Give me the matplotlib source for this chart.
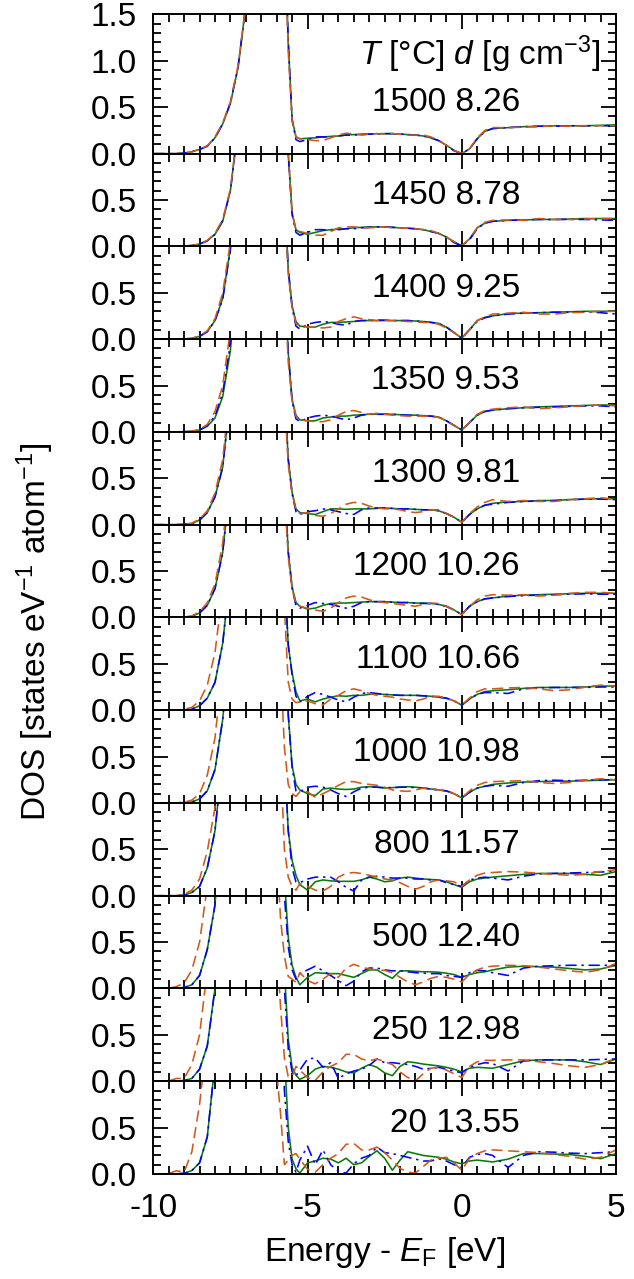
import numpy as np
import matplotlib
matplotlib.use("Agg")
import matplotlib.pyplot as plt
from matplotlib.ticker import MultipleLocator, FuncFormatter

plt.rcParams['font.family'] = ['Liberation Sans', 'DejaVu Sans']
plt.rcParams['mathtext.fontset'] = 'custom'
plt.rcParams['mathtext.rm'] = 'Liberation Sans'
plt.rcParams['mathtext.it'] = 'Liberation Sans:italic'
plt.rcParams['axes.unicode_minus'] = False

# energy grid (eV), shared by all curves
energy = [-10, -9.5, -9.25, -9.0, -8.75, -8.5, -8.25, -8.0, -7.75, -7.5, -7.25, -7.0,
          -6.5, -6.25, -6.0, -5.875, -5.75, -5.625, -5.5, -5.375, -5.25, -5.0, -4.75, -4.5, -4.25, -4.0,
          -3.75, -3.5, -3.25, -3.0, -2.75, -2.5, -2.25, -2.0, -1.75, -1.5, -1.25, -1.0, -0.75, -0.5, -0.25, 0.0,
          0.25, 0.5, 0.75, 1.0, 1.5, 2.0, 2.5, 3.0, 3.5, 4.0, 4.5, 5.0]

temps = ['1500', '1450', '1400', '1350', '1300', '1200', '1100', '1000', '800', '500', '250', '20']
dens = ['8.26', '8.78', '9.25', '9.53', '9.81', '10.26', '10.66', '10.98', '11.57', '12.40', '12.98', '13.55']

# 1500
g1500 = [0, 0, 0, 0.005, 0.02, 0.045, 0.08, 0.17, 0.32, 0.54, 0.93, 1.6,
         3, 3, 3, 3, 2.5, 1.2, 0.37, 0.18, 0.16, 0.165, 0.17, 0.18, 0.185, 0.19,
         0.2, 0.205, 0.21, 0.21, 0.215, 0.215, 0.215, 0.21, 0.205, 0.2, 0.19, 0.17, 0.14, 0.09, 0.035, 0.0,
         0.05, 0.16, 0.24, 0.27, 0.28, 0.29, 0.295, 0.3, 0.3, 0.3, 0.305, 0.31]
b1500 = [0, 0, 0, 0.005, 0.02, 0.045, 0.08, 0.17, 0.32, 0.55, 0.94, 1.6,
         3, 3, 3, 3, 2.5, 1.2, 0.36, 0.15, 0.13, 0.15, 0.18, 0.18, 0.18, 0.19,
         0.2, 0.2, 0.205, 0.21, 0.21, 0.215, 0.215, 0.21, 0.205, 0.2, 0.19, 0.17, 0.14, 0.09, 0.03, 0.0,
         0.05, 0.16, 0.24, 0.27, 0.28, 0.29, 0.295, 0.295, 0.3, 0.3, 0.3, 0.3]
o1500 = [0, 0, 0, 0.005, 0.02, 0.045, 0.085, 0.18, 0.33, 0.56, 0.95, 1.6,
         3, 3, 3, 3, 2.4, 1.1, 0.36, 0.18, 0.16, 0.15, 0.14, 0.14, 0.17, 0.2,
         0.22, 0.21, 0.2, 0.21, 0.215, 0.21, 0.215, 0.21, 0.2, 0.2, 0.2, 0.18, 0.14, 0.09, 0.035, 0.0,
         0.05, 0.17, 0.25, 0.28, 0.28, 0.285, 0.29, 0.3, 0.295, 0.3, 0.3, 0.3]
# 1450
g1450 = [0, 0, 0, 0.003, 0.01, 0.025, 0.06, 0.13, 0.27, 0.6, 1.3, 3,
         3, 3, 3, 3, 2.0, 1.0, 0.36, 0.18, 0.15, 0.13, 0.15, 0.17, 0.18, 0.185,
         0.19, 0.2, 0.205, 0.21, 0.21, 0.21, 0.205, 0.2, 0.195, 0.19, 0.18, 0.16, 0.14, 0.1, 0.05, 0.005,
         0.08, 0.2, 0.25, 0.27, 0.28, 0.285, 0.29, 0.29, 0.295, 0.3, 0.3, 0.3]
b1450 = [0, 0, 0, 0.003, 0.01, 0.025, 0.06, 0.13, 0.28, 0.6, 1.3, 3,
         3, 3, 3, 3, 2.0, 1.0, 0.34, 0.15, 0.12, 0.15, 0.18, 0.18, 0.17, 0.18,
         0.19, 0.19, 0.2, 0.205, 0.21, 0.21, 0.205, 0.2, 0.195, 0.19, 0.18, 0.16, 0.14, 0.1, 0.04, 0.005,
         0.07, 0.19, 0.25, 0.27, 0.28, 0.285, 0.29, 0.29, 0.29, 0.29, 0.285, 0.28]
o1450 = [0, 0, 0, 0.003, 0.01, 0.025, 0.065, 0.14, 0.29, 0.62, 1.3, 3,
         3, 3, 3, 3, 2.0, 1.0, 0.36, 0.18, 0.16, 0.14, 0.12, 0.12, 0.16, 0.2,
         0.21, 0.21, 0.2, 0.2, 0.205, 0.21, 0.2, 0.2, 0.195, 0.19, 0.18, 0.17, 0.14, 0.1, 0.05, 0.005,
         0.08, 0.2, 0.26, 0.28, 0.285, 0.28, 0.3, 0.29, 0.29, 0.295, 0.3, 0.3]
# 1400
g1400 = [0, 0, 0, 0.002, 0.007, 0.03, 0.08, 0.2, 0.44, 0.98, 2, 3,
         3, 3, 3, 3, 1.6, 0.75, 0.36, 0.19, 0.14, 0.13, 0.13, 0.16, 0.18, 0.18,
         0.185, 0.19, 0.2, 0.2, 0.2, 0.2, 0.2, 0.2, 0.2, 0.195, 0.19, 0.18, 0.17, 0.13, 0.07, 0.01,
         0.1, 0.2, 0.235, 0.25, 0.275, 0.28, 0.285, 0.29, 0.295, 0.3, 0.3, 0.3]
b1400 = [0, 0, 0, 0.002, 0.007, 0.03, 0.08, 0.2, 0.43, 0.97, 2, 3,
         3, 3, 3, 3, 1.6, 0.75, 0.34, 0.14, 0.11, 0.16, 0.18, 0.19, 0.18, 0.16,
         0.15, 0.19, 0.2, 0.2, 0.205, 0.205, 0.2, 0.2, 0.2, 0.195, 0.19, 0.18, 0.17, 0.13, 0.07, 0.01,
         0.1, 0.19, 0.23, 0.25, 0.27, 0.28, 0.285, 0.29, 0.29, 0.295, 0.285, 0.27]
o1400 = [0, 0, 0, 0.003, 0.01, 0.035, 0.09, 0.22, 0.5, 1.05, 2, 3,
         3, 3, 3, 3, 1.5, 0.7, 0.34, 0.17, 0.14, 0.13, 0.13, 0.12, 0.13, 0.19,
         0.22, 0.24, 0.22, 0.21, 0.2, 0.205, 0.2, 0.195, 0.19, 0.185, 0.18, 0.18, 0.16, 0.12, 0.07, 0.01,
         0.1, 0.2, 0.24, 0.27, 0.28, 0.29, 0.27, 0.27, 0.285, 0.29, 0.3, 0.3]
# 1350
g1350 = [0, 0, 0, 0.002, 0.006, 0.018, 0.06, 0.15, 0.38, 0.88, 2, 3,
         3, 3, 3, 3, 1.8, 0.85, 0.35, 0.18, 0.13, 0.12, 0.12, 0.15, 0.16, 0.17,
         0.17, 0.18, 0.185, 0.19, 0.19, 0.19, 0.19, 0.185, 0.18, 0.18, 0.175, 0.17, 0.16, 0.12, 0.07, 0.02,
         0.1, 0.18, 0.22, 0.235, 0.25, 0.26, 0.27, 0.275, 0.28, 0.285, 0.29, 0.29]
b1350 = [0, 0, 0, 0.002, 0.007, 0.02, 0.07, 0.17, 0.42, 0.95, 2, 3,
         3, 3, 3, 3, 1.8, 0.85, 0.33, 0.14, 0.11, 0.15, 0.17, 0.18, 0.17, 0.15,
         0.13, 0.15, 0.18, 0.19, 0.19, 0.19, 0.19, 0.185, 0.18, 0.18, 0.175, 0.17, 0.16, 0.12, 0.07, 0.02,
         0.1, 0.18, 0.22, 0.235, 0.25, 0.26, 0.265, 0.27, 0.275, 0.28, 0.28, 0.27]
o1350 = [0, 0, 0, 0.003, 0.009, 0.028, 0.08, 0.22, 0.5, 1.1, 2, 3,
         3, 3, 3, 3, 1.6, 0.75, 0.33, 0.17, 0.13, 0.12, 0.11, 0.11, 0.13, 0.18,
         0.22, 0.23, 0.21, 0.19, 0.2, 0.19, 0.18, 0.175, 0.17, 0.17, 0.17, 0.17, 0.155, 0.12, 0.07, 0.02,
         0.1, 0.19, 0.23, 0.245, 0.26, 0.27, 0.25, 0.26, 0.27, 0.285, 0.29, 0.28]
# 1300
g1300 = [0, 0, 0, 0.003, 0.012, 0.05, 0.13, 0.3, 0.62, 1.4, 3, 3,
         3, 3, 3, 3, 1.5, 0.7, 0.35, 0.17, 0.13, 0.12, 0.11, 0.14, 0.17, 0.17,
         0.165, 0.17, 0.17, 0.17, 0.175, 0.18, 0.175, 0.17, 0.17, 0.165, 0.16, 0.16, 0.15, 0.12, 0.08, 0.025,
         0.11, 0.17, 0.21, 0.23, 0.245, 0.25, 0.26, 0.26, 0.27, 0.275, 0.28, 0.28]
b1300 = [0, 0, 0, 0.003, 0.012, 0.05, 0.13, 0.3, 0.62, 1.4, 3, 3,
         3, 3, 3, 3, 1.5, 0.7, 0.33, 0.14, 0.11, 0.14, 0.15, 0.17, 0.16, 0.14,
         0.12, 0.11, 0.16, 0.18, 0.18, 0.18, 0.175, 0.17, 0.17, 0.165, 0.16, 0.16, 0.15, 0.12, 0.08, 0.025,
         0.11, 0.17, 0.21, 0.22, 0.24, 0.25, 0.255, 0.26, 0.27, 0.275, 0.275, 0.27]
o1300 = [0, 0, 0, 0.004, 0.016, 0.06, 0.15, 0.34, 0.7, 1.5, 3, 3,
         3, 3, 3, 3, 1.4, 0.65, 0.33, 0.16, 0.12, 0.13, 0.1, 0.09, 0.12, 0.17,
         0.22, 0.24, 0.23, 0.2, 0.18, 0.17, 0.17, 0.16, 0.14, 0.13, 0.14, 0.16, 0.16, 0.12, 0.08, 0.025,
         0.12, 0.19, 0.24, 0.27, 0.25, 0.26, 0.25, 0.25, 0.27, 0.28, 0.29, 0.27]
# 1200
g1200 = [0, 0, 0, 0.003, 0.012, 0.047, 0.13, 0.31, 0.7, 1.5, 3, 3,
         3, 3, 3, 3, 1.5, 0.7, 0.33, 0.16, 0.12, 0.09, 0.1, 0.13, 0.15, 0.155,
         0.155, 0.16, 0.165, 0.17, 0.17, 0.17, 0.165, 0.16, 0.16, 0.155, 0.155, 0.15, 0.14, 0.12, 0.08, 0.03,
         0.12, 0.17, 0.2, 0.21, 0.23, 0.24, 0.245, 0.25, 0.255, 0.26, 0.26, 0.26]
b1200 = [0, 0, 0, 0.003, 0.012, 0.047, 0.13, 0.31, 0.7, 1.5, 3, 3,
         3, 3, 3, 3, 1.5, 0.7, 0.31, 0.13, 0.1, 0.13, 0.16, 0.15, 0.14, 0.12,
         0.1, 0.12, 0.16, 0.17, 0.17, 0.17, 0.165, 0.16, 0.16, 0.155, 0.15, 0.15, 0.14, 0.12, 0.08, 0.03,
         0.12, 0.17, 0.2, 0.21, 0.225, 0.235, 0.24, 0.245, 0.25, 0.255, 0.25, 0.25]
o1200 = [0, 0, 0, 0.004, 0.016, 0.06, 0.16, 0.36, 0.8, 1.6, 3, 3,
         3, 3, 3, 3, 1.4, 0.65, 0.31, 0.15, 0.12, 0.1, 0.08, 0.065, 0.1, 0.16,
         0.21, 0.23, 0.22, 0.19, 0.17, 0.16, 0.15, 0.14, 0.13, 0.12, 0.14, 0.155, 0.15, 0.12, 0.08, 0.03,
         0.12, 0.19, 0.23, 0.245, 0.24, 0.245, 0.23, 0.24, 0.26, 0.27, 0.27, 0.26]
# 1100
g1100 = [0, 0, 0, 0.003, 0.012, 0.047, 0.13, 0.3, 0.72, 1.5, 3, 3,
         3, 3, 3, 3, 1.5, 0.7, 0.4, 0.2, 0.1, 0.12, 0.09, 0.12, 0.14, 0.155,
         0.15, 0.16, 0.16, 0.17, 0.175, 0.17, 0.165, 0.16, 0.16, 0.16, 0.155, 0.15, 0.14, 0.13, 0.1, 0.054,
         0.12, 0.17, 0.2, 0.21, 0.22, 0.235, 0.245, 0.245, 0.245, 0.25, 0.26, 0.26]
b1100 = [0, 0, 0, 0.003, 0.012, 0.047, 0.13, 0.3, 0.72, 1.5, 3, 3,
         3, 3, 3, 3, 1.5, 0.7, 0.38, 0.15, 0.09, 0.15, 0.19, 0.17, 0.14, 0.11,
         0.09, 0.14, 0.18, 0.19, 0.18, 0.17, 0.165, 0.16, 0.16, 0.16, 0.155, 0.15, 0.14, 0.13, 0.1, 0.054,
         0.12, 0.17, 0.19, 0.19, 0.18, 0.23, 0.24, 0.245, 0.245, 0.245, 0.25, 0.25]
o1100 = [0, 0, 0, 0.01, 0.03, 0.1, 0.27, 0.62, 1.3, 3, 3, 3,
         3, 3, 3, 3, 1.1, 0.3, 0.12, 0.08, 0.09, 0.1, 0.07, 0.055, 0.12, 0.16,
         0.21, 0.23, 0.21, 0.18, 0.16, 0.15, 0.14, 0.12, 0.11, 0.1, 0.12, 0.15, 0.15, 0.13, 0.1, 0.054,
         0.13, 0.2, 0.23, 0.23, 0.24, 0.245, 0.23, 0.21, 0.22, 0.25, 0.27, 0.26]
# 1000
g1000 = [0, 0, 0, 0.003, 0.01, 0.043, 0.13, 0.36, 0.9, 1.8, 3, 3,
         3, 3, 3, 3, 2.0, 0.95, 0.4, 0.2, 0.14, 0.1, 0.08, 0.15, 0.16, 0.15,
         0.145, 0.15, 0.17, 0.175, 0.17, 0.16, 0.165, 0.17, 0.175, 0.17, 0.16, 0.15, 0.14, 0.13, 0.1, 0.054,
         0.115, 0.16, 0.18, 0.2, 0.215, 0.225, 0.23, 0.235, 0.235, 0.24, 0.245, 0.25]
b1000 = [0, 0, 0, 0.003, 0.01, 0.043, 0.13, 0.36, 0.9, 1.8, 3, 3,
         3, 3, 3, 3, 2.0, 0.95, 0.38, 0.13, 0.12, 0.17, 0.18, 0.17, 0.14, 0.1,
         0.07, 0.12, 0.16, 0.17, 0.17, 0.165, 0.165, 0.17, 0.17, 0.165, 0.16, 0.15, 0.14, 0.13, 0.1, 0.054,
         0.115, 0.16, 0.18, 0.19, 0.18, 0.22, 0.24, 0.245, 0.24, 0.245, 0.25, 0.25]
o1000 = [0, 0, 0, 0.01, 0.03, 0.1, 0.3, 0.7, 1.5, 3, 3, 3,
         3, 3, 3, 1.5, 0.6, 0.2, 0.1, 0.07, 0.12, 0.12, 0.06, 0.1, 0.14, 0.19,
         0.23, 0.23, 0.21, 0.2, 0.19, 0.17, 0.14, 0.13, 0.125, 0.14, 0.16, 0.16, 0.14, 0.13, 0.1, 0.054,
         0.13, 0.19, 0.22, 0.23, 0.235, 0.24, 0.22, 0.21, 0.22, 0.245, 0.26, 0.25]
# 800
g800 = [0, 0, 0, 0.005, 0.035, 0.1, 0.3, 0.7, 1.5, 3, 3, 3,
        3, 3, 3, 3, 1.5, 0.7, 0.38, 0.22, 0.12, 0.06, 0.15, 0.17, 0.16, 0.155,
        0.155, 0.155, 0.17, 0.2, 0.18, 0.15, 0.16, 0.19, 0.2, 0.19, 0.18, 0.175, 0.17, 0.15, 0.12, 0.09,
        0.15, 0.18, 0.19, 0.2, 0.215, 0.23, 0.24, 0.24, 0.24, 0.23, 0.22, 0.26]
b800 = [0, 0, 0, 0.005, 0.035, 0.1, 0.3, 0.7, 1.5, 3, 3, 3,
        3, 3, 3, 3, 1.5, 0.7, 0.3, 0.15, 0.14, 0.18, 0.2, 0.2, 0.2, 0.15,
        0.09, 0.05, 0.17, 0.2, 0.21, 0.2, 0.19, 0.19, 0.19, 0.18, 0.18, 0.17, 0.17, 0.14, 0.12, 0.1,
        0.17, 0.19, 0.2, 0.19, 0.17, 0.21, 0.235, 0.24, 0.245, 0.25, 0.255, 0.265]
o800 = [0, 0, 0, 0.015, 0.06, 0.18, 0.48, 0.95, 2, 3, 3, 3,
        3, 3, 3, 1.5, 0.5, 0.2, 0.1, 0.06, 0.13, 0.1, 0.06, 0.05, 0.1, 0.2,
        0.24, 0.25, 0.24, 0.22, 0.2, 0.18, 0.17, 0.14, 0.1, 0.07, 0.1, 0.15, 0.17, 0.16, 0.15, 0.1,
        0.17, 0.22, 0.245, 0.25, 0.26, 0.255, 0.24, 0.23, 0.22, 0.23, 0.26, 0.28]
# 500
g500 = [0, 0, 0.003, 0.01, 0.04, 0.14, 0.42, 0.9, 2, 3, 3, 3,
        3, 3, 3, 2.2, 1.2, 0.55, 0.25, 0.12, 0.04, 0.12, 0.17, 0.165, 0.16, 0.16,
        0.14, 0.12, 0.16, 0.2, 0.2, 0.15, 0.11, 0.19, 0.19, 0.185, 0.18, 0.18, 0.175, 0.165, 0.15, 0.12,
        0.15, 0.17, 0.18, 0.2, 0.23, 0.24, 0.235, 0.23, 0.215, 0.2, 0.21, 0.25]
b500 = [0, 0, 0.003, 0.01, 0.04, 0.14, 0.42, 0.9, 2, 3, 3, 3,
        3, 3, 3, 2.0, 1.0, 0.45, 0.2, 0.1, 0.16, 0.2, 0.24, 0.19, 0.14, 0.085,
        0.03, 0.08, 0.18, 0.22, 0.22, 0.2, 0.19, 0.19, 0.18, 0.17, 0.165, 0.16, 0.16, 0.14, 0.13, 0.12,
        0.17, 0.195, 0.19, 0.17, 0.14, 0.22, 0.24, 0.245, 0.25, 0.25, 0.25, 0.25]
o500 = [0, 0.003, 0.02, 0.06, 0.2, 0.5, 1.1, 2, 3, 3, 3, 3,
        3, 3, 1.5, 0.75, 0.35, 0.13, 0.1, 0.066, 0.17, 0.085, 0.05, 0.1, 0.16, 0.12,
        0.22, 0.26, 0.23, 0.21, 0.2, 0.195, 0.17, 0.12, 0.07, 0.04, 0.07, 0.11, 0.13, 0.12, 0.1, 0.07,
        0.15, 0.2, 0.23, 0.24, 0.25, 0.245, 0.23, 0.21, 0.19, 0.175, 0.2, 0.27]
# 250
g250 = [0, 0, 0.002, 0.007, 0.03, 0.13, 0.38, 1.0, 2, 3, 3, 3,
        3, 3, 3, 2.0, 1.2, 0.45, 0.15, 0.065, 0.02, 0.06, 0.13, 0.16, 0.15, 0.13,
        0.1, 0.09, 0.14, 0.18, 0.15, 0.09, 0.06, 0.16, 0.21, 0.2, 0.185, 0.175, 0.165, 0.15, 0.13, 0.1,
        0.14, 0.15, 0.145, 0.14, 0.18, 0.22, 0.23, 0.23, 0.23, 0.21, 0.18, 0.24]
b250 = [0, 0, 0.002, 0.007, 0.03, 0.13, 0.38, 1.0, 2, 3, 3, 3,
        3, 3, 3, 2.0, 1.0, 0.35, 0.1, 0.06, 0.12, 0.24, 0.25, 0.15, 0.2, 0.03,
        0.08, 0.11, 0.13, 0.17, 0.24, 0.2, 0.2, 0.19, 0.18, 0.16, 0.13, 0.14, 0.15, 0.13, 0.11, 0.09,
        0.15, 0.18, 0.2, 0.19, 0.11, 0.22, 0.23, 0.23, 0.23, 0.23, 0.235, 0.24]
o250 = [0, 0.003, 0.03, 0.03, 0.18, 0.5, 1.2, 2, 3, 3, 3, 3,
        3, 3, 1.5, 0.8, 0.25, 0.05, 0.05, 0.16, 0.12, 0.04, 0.01, 0.1, 0.16, 0.2,
        0.29, 0.29, 0.24, 0.22, 0.24, 0.21, 0.18, 0.1, 0.04, 0.005, 0.08, 0.14, 0.15, 0.12, 0.08, 0.04,
        0.16, 0.21, 0.225, 0.225, 0.23, 0.23, 0.21, 0.19, 0.165, 0.15, 0.18, 0.25]
# 20
g20 = [0, 0, 0.002, 0.007, 0.037, 0.12, 0.4, 1.2, 2, 3, 3, 3,
       3, 3, 3, 3, 1.3, 0.5, 0.16, 0.055, 0.01, 0.12, 0.14, 0.17, 0.16, 0.12,
       0.17, 0.1, 0.12, 0.19, 0.25, 0.17, 0.04, 0.15, 0.24, 0.22, 0.2, 0.19, 0.18, 0.16, 0.13, 0.11,
       0.14, 0.15, 0.14, 0.13, 0.16, 0.22, 0.22, 0.215, 0.21, 0.19, 0.165, 0.22]
b20 = [0, 0, 0.002, 0.007, 0.037, 0.12, 0.4, 1.2, 2, 3, 3, 3,
       3, 3, 3, 2.0, 0.9, 0.35, 0.1, 0.02, 0.15, 0.3, 0.1, 0.26, 0.1, 0.03,
       0.01, 0.11, 0.17, 0.2, 0.29, 0.23, 0.22, 0.2, 0.18, 0.16, 0.14, 0.14, 0.165, 0.14, 0.1, 0.07,
       0.18, 0.21, 0.22, 0.2, 0.07, 0.2, 0.24, 0.235, 0.225, 0.22, 0.23, 0.24]
o20 = [0, 0.005, 0.035, 0.02, 0.24, 0.75, 1.5, 2, 3, 3, 3, 3,
       3, 3, 1.1, 0.65, 0.1, 0.15, 0.2, 0.22, 0.16, 0.05, 0.02, 0.1, 0.17, 0.22,
       0.32, 0.33, 0.26, 0.26, 0.29, 0.23, 0.15, 0.06, 0.02, 0.01, 0.08, 0.15, 0.17, 0.18, 0.12, 0.04,
       0.17, 0.22, 0.25, 0.26, 0.25, 0.24, 0.23, 0.21, 0.19, 0.16, 0.18, 0.26]

green = [g1500, g1450, g1400, g1350, g1300, g1200, g1100, g1000, g800, g500, g250, g20]
blue = [b1500, b1450, b1400, b1350, b1300, b1200, b1100, b1000, b800, b500, b250, b20]
orange = [o1500, o1450, o1400, o1350, o1300, o1200, o1100, o1000, o800, o500, o250, o20]

fig = plt.figure(figsize=(6.34, 12.79), dpi=100)
gs = fig.add_gridspec(12, 1, height_ratios=[1.5] + [1] * 11,
                      left=0.2418, right=0.9716, top=0.9887, bottom=0.0821, hspace=0)

for i in range(12):
    ax = fig.add_subplot(gs[i])
    ax.plot(energy, green[i], color='#0a7a0a', lw=1.15)
    ax.plot(energy, blue[i], color='#0000ff', lw=1.15, dashes=[7, 3, 1.5, 3])
    ax.plot(energy, orange[i], color='#d2581a', lw=1.15, dashes=[7, 3.5])
    ax.set_xlim(-10, 5)
    ytop = 1.5 if i == 0 else 1.0
    ax.set_ylim(0, ytop)
    ax.xaxis.set_major_locator(MultipleLocator(5))
    ax.xaxis.set_minor_locator(MultipleLocator(0.5))
    ax.yaxis.set_major_locator(MultipleLocator(0.5))
    ax.yaxis.set_minor_locator(MultipleLocator(0.1))
    if i == 0:
        ax.yaxis.set_major_formatter(FuncFormatter(lambda v, p: '%.1f' % v))
    else:
        ax.yaxis.set_major_formatter(FuncFormatter(lambda v, p: '' if v > 0.9 else '%.1f' % v))
    ax.tick_params(which='both', direction='in', top=True, right=True, width=1.3, labelsize=24)
    ax.tick_params(which='major', length=11)
    ax.tick_params(which='minor', length=5.5)
    ax.tick_params(axis='y', pad=12)
    ax.tick_params(axis='x', pad=14, labelbottom=(i == 11))
    for s in ax.spines.values():
        s.set_linewidth(1.4)
    ax.text(0.7925, 0.457 / ytop, temps[i] + ' ' + dens[i], transform=ax.transAxes,
            ha='right', va='baseline', fontsize=24)
    if i == 0:
        ax.text(0.965, 0.955 / ytop, r'$T$ [°C] $d$ [g cm$^{-3}$]', transform=ax.transAxes,
                ha='right', va='baseline', fontsize=24)

fig.text(0.055, 0.506, r'DOS [states eV$^{-1}$ atom$^{-1}$]', rotation=90,
         ha='center', va='center', fontsize=24)
fig.text(0.607, 0.021, r'Energy - $E_{\rm F}$ [eV]', ha='center', va='center', fontsize=24)

fig.savefig('out.png', dpi=100)
